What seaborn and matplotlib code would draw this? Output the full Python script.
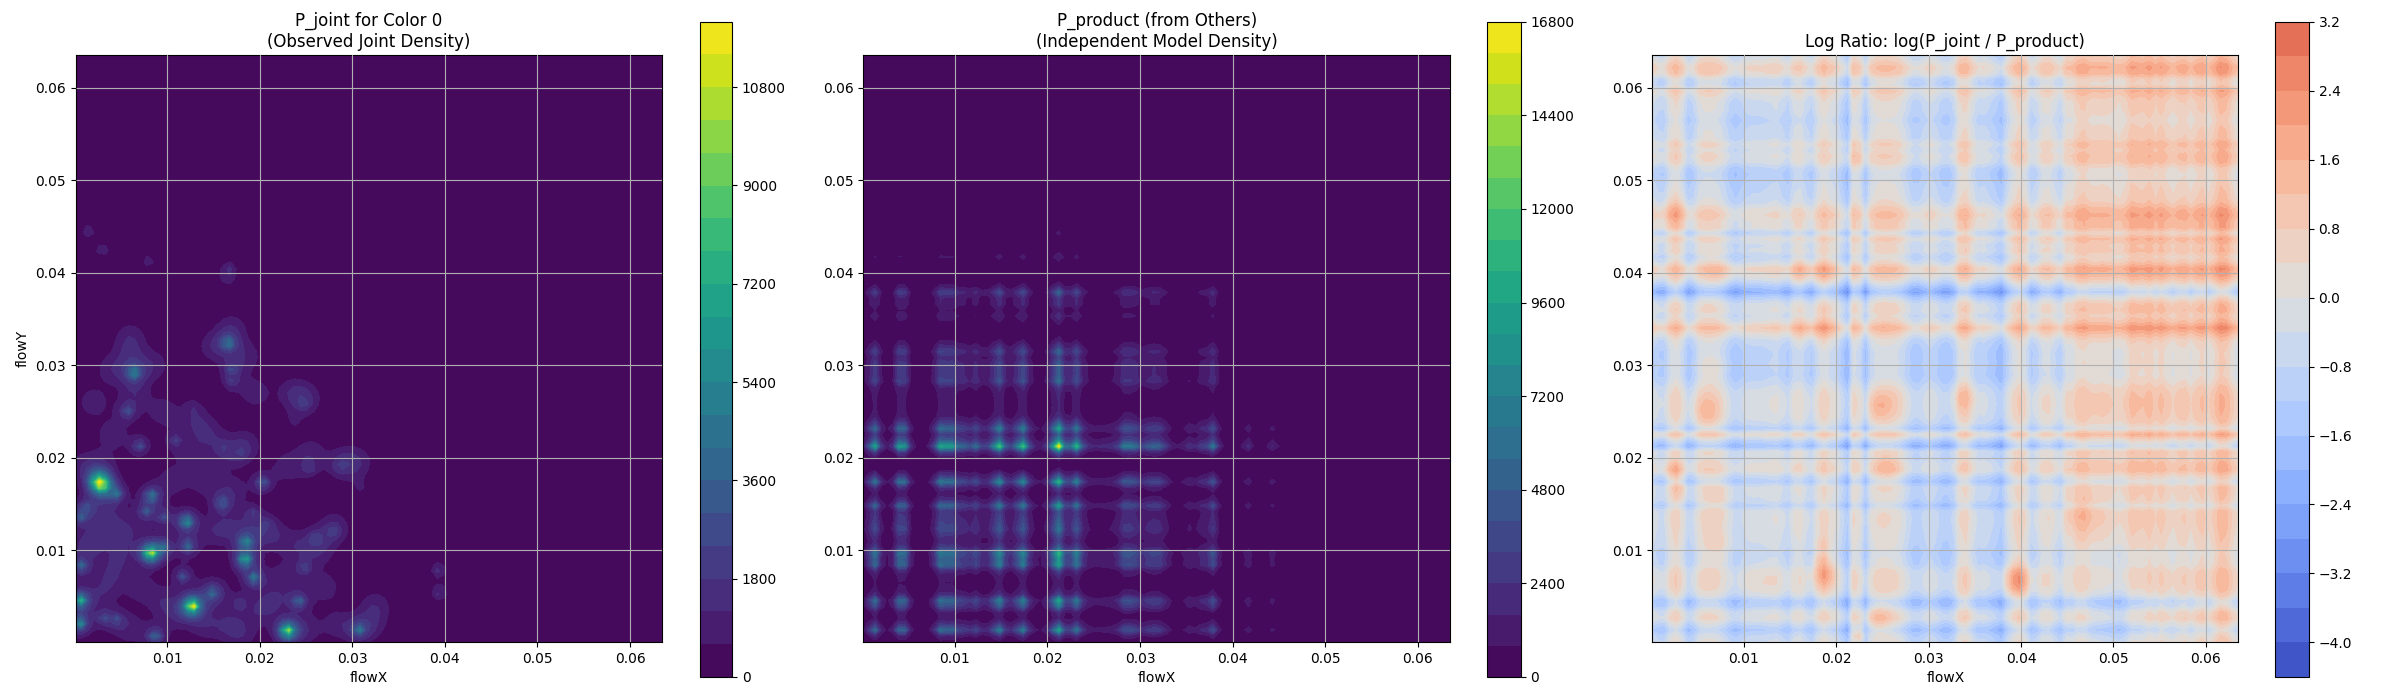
import numpy as np
import seaborn as sns
import matplotlib
matplotlib.use("Agg")
import matplotlib.pyplot as plt

# joint density: peaks (flowX, flowY, height)
peak_x = [.0026, .0030, .0127, .0082, .0230, .0006, .0005, .0184, .0185, .0194, .0121, .0122, .0083, .0064, .0166,
          .0057, .0070, .0108, .0159, .0203, .0045, .0006, .0012, .0007, .0117, .0149, .0242, .0248, .0260, .0280,
          .0307, .0087, .0045, .0031, .0096, .0077, .0096, .0192, .0208, .0170, .0170, .0393, .0394, .0254, .0286,
          .0248, .0237, .0309, .0127, .0181, .0160, .0178, .0015, .0030, .0080, .0167, .0165]
peak_y = [.0174, .0170, .0040, .0097, .0013, .0046, .0021, .0090, .0109, .0070, .0131, .0105, .0159, .0292, .0324,
          .0250, .0213, .0219, .0151, .0173, .0161, .0136, .0147, .0083, .0072, .0054, .0045, .0081, .0113, .0120,
          .0014, .0007, .0025, .0027, .0104, .0142, .0136, .0140, .0129, .0296, .0282, .0079, .0054, .0188, .0190,
          .0257, .0241, .0169, .0255, .0204, .0210, .0043, .0445, .0425, .0413, .0405, .0395]
peak_h = [10000, 6500, 11800, 10800, 10000, 7400, 6000, 6800, 4600, 4600, 6000, 4000, 4500, 4800, 4000,
          2800, 2800, 1900, 3200, 3200, 3800, 3000, 1900, 3800, 2900, 2900, 3800, 2200, 1900, 1300,
          4000, 3900, 2200, 2300, 3300, 2900, 2600, 1700, 1200, 2400, 1700, 1500, 1500, 1300, 1000,
          1000, 900, 800, 900, 1100, 800, 1600, 1100, 1100, 1000, 1100, 1100]

# lumpy low floor under the peaks
lump_x = [.0020, .0040, .0085, .0040, .0065, .0095, .0130, .0145, .0165, .0185, .0125, .0105, .0140, .0170, .0150,
          .0170, .0195, .0215, .0060, .0040, .0025, .0010, .0050, .0040, .0070, .0030, .0095, .0110, .0140, .0165,
          .0060, .0180, .0200, .0215, .0225, .0240, .0265, .0270, .0250, .0285, .0325, .0320, .0280, .0230, .0255,
          .0290, .0305, .0250, .0235, .0170, .0150, .0185, .0195, .0060, .0060, .0030, .0010, .0025, .0150]
lump_y = [.0260, .0295, .0300, .0225, .0270, .0250, .0240, .0225, .0205, .0215, .0205, .0175, .0175, .0165, .0120,
          .0125, .0120, .0115, .0120, .0130, .0110, .0105, .0095, .0075, .0060, .0055, .0045, .0030, .0020, .0020,
          .0015, .0010, .0035, .0045, .0070, .0105, .0100, .0060, .0015, .0020, .0040, .0020, .0125, .0190, .0205,
          .0195, .0195, .0265, .0270, .0340, .0320, .0310, .0270, .0330, .0310, .0190, .0190, .0145, .0055]
lump_h = 1000

# independent model: marginal peaks along each axis
marg_x = [.00127, .00425, .0084, .00945, .0107, .0122, .0147, .01724, .0211, .0231, .02845, .0293, .0312, .0323,
          .0352, .0365, .0378, .0416, .0442, .0454]
marg_x_h = [.60, .74, .48, .52, .24, .24, .66, .68, 1.0, .60, .28, .24, .24, .20, .11, .13, .40, .13, .10, .04]
marg_x_wide = [.0125, .0175, .0255, .0300]
marg_x_wide_h = [.11, .05, .08, .10]

marg_y = [.00147, .00436, .0086, .0097, .0121, .0132, .01487, .01747, .02133, .02326, .02847, .0299, .0316, .0352,
          .0367, .0379, .0417, .0443]
marg_y_h = [.58, .64, .50, .50, .26, .24, .52, .66, 1.0, .54, .28, .22, .26, .13, .13, .30, .09, .06]
marg_y_wide = [.0065, .0115, .0255, .0300]
marg_y_wide_h = [.08, .12, .10, .11]
product_top = 16400

# log ratio: stripes along x, stripes along y, then local patches
ratio_x = [.00115, .00415, .0090, .0118, .01464, .0173, .0211, .0230, .02847, .0319, .0355, .0366, .03775, .0413, .0441,
           .0026, .0062, .0121, .0161, .01845, .0222, .0249, .0270, .0303, .0337, .0399, .0421, .0433, .0447, .0465,
           .0487, .0522, .0537, .0552, .0575, .0594, .0618]
ratio_x_h = [-.65, -1.0, -.8, -.5, -.7, -.75, -1.4, -1.3, -.9, -.85, -.5, -.5, -1.3, -.85, -.85,
             .7, .45, .3, .3, .75, .95, .5, .35, .25, 1.1, .75, .4, .4, .4, .75,
             .5, .9, .9, .8, .7, 1.0, 1.4]
ratio_x_w = [.0005, .0005, .0008, .0012, .0004, .0006, .0004, .0004, .0009, .0011, .0004, .0004, .0005, .0005, .0004,
             .0006, .0014, .0015, .0006, .0006, .0004, .0011, .0011, .0005, .0005, .0006, .0003, .0003, .0003, .0006,
             .0013, .0006, .0004, .0006, .0006, .0004, .0008]
ratio_x_base = [.054]
ratio_x_base_h = [.45]
ratio_offset = -.25

ratio_y = [.03797, .02133, .02326, .01747, .01487, .00436, .00147, .0606, .0565, .0417, .0444, .0313, .0289, .0511,
           .0086, .0097, .0340, .0403, .0620, .0596, .0538, .0523, .0463, .0450, .0437, .0422, .0362, .0226, .0189,
           .0206, .0169, .0260, .0135, .0068, .0027]
ratio_y_h = [-1.6, -1.3, -1.0, -.9, -.75, -1.1, -.95, -.6, -.35, -.55, -.55, -.5, -.6, -.5,
             -.35, -.35, 1.3, 1.2, 1.1, .8, .6, .9, 1.1, .7, .7, .6, .5, .8, .7,
             .5, .35, .35, .3, .45, .45]
ratio_y_w = [.0005, .0004, .0003, .0004, .0003, .0005, .0005, .0005, .0005, .0005, .0003, .0009, .0009, .0012,
             .0004, .0004, .0005, .0006, .0007, .0004, .0003, .0006, .0007, .0003, .0004, .0004, .0004, .0003, .0005,
             .0003, .0004, .0016, .0014, .0013, .0006]

patch_x = [.0395, .0187, .0183, .0185, .0060, .0065, .0245, .0260, .0025, .0030, .0255, .0225, .0245, .0338, .0025,
           .0075, .0465, .0075, .0162, .0187, .0165, .0187, .0223, .0500, .0500, .0550, .0110, .0300, .0120, .0075]
patch_y = [.0068, .0075, .0090, .0105, .0250, .0295, .0255, .0260, .0185, .0165, .0188, .0010, .0025, .0265, .0465,
           .0105, .0140, .0155, .0403, .0402, .0340, .0340, .0523, .0045, .0015, .0060, .0480, .0140, .0065, .0402]
patch_h = [1.6, 1.4, .8, .8, 1.1, .7, .9, .4, 1.0, .8, .8, 1.2, .9, .8, .8,
           .7, .7, .7, .8, .7, .6, .6, .6, -.5, -.6, -.4, -.3, -.3, .4, .5]
patch_w = [.0010, .0009, .0005, .0005, .0011, .0010, .0009, .0012, .0006, .0006, .0010, .0005, .0009, .0008, .0010,
           .0012, .0014, .0012, .0009, .0009, .0010, .0010, .0009, .0030, .0030, .0070, .0060, .0040, .0015, .0010]

joint_levels = np.arange(0, 12001, 600)
product_levels = np.arange(0, 16801, 800)
ratio_levels = np.arange(-4.4, 3.21, 0.4)
lims = (.0001, .0635)
ticks = [.01, .02, .03, .04, .05, .06]


def bumps(grid, pos, height, width):
    total = np.zeros_like(grid)
    for p, h in zip(pos, height):
        total += h * np.exp(-0.5 * ((grid - p) / width) ** 2)
    return total


def blob(gx, gy, x, y, w):
    return np.exp(-0.5 * (((gx - x) / w) ** 2 + ((gy - y) / w) ** 2))


grid = np.linspace(lims[0], lims[1], 100)
gx, gy = np.meshgrid(grid, grid)

# P_joint
p_joint = np.zeros_like(gx)
for x, y, h in zip(peak_x, peak_y, peak_h):
    p_joint += h * (.6 * blob(gx, gy, x, y, .00035) + .45 * blob(gx, gy, x, y, .0009))
for x, y in zip(lump_x, lump_y):
    p_joint += lump_h * blob(gx, gy, x, y, .0012)

# P_product
fx = (.6 * bumps(grid, marg_x, marg_x_h, .0003) + .5 * bumps(grid, marg_x, marg_x_h, .0007)
      + bumps(grid, marg_x_wide, marg_x_wide_h, .003))
fy = (.6 * bumps(grid, marg_y, marg_y_h, .0003) + .5 * bumps(grid, marg_y, marg_y_h, .0007)
      + bumps(grid, marg_y_wide, marg_y_wide_h, .002))
p_product = np.outer(fy, fx)
p_product = p_product / p_product.max() * product_top

# log ratio
rx = np.zeros_like(grid)
for p, h, w in zip(ratio_x, ratio_x_h, ratio_x_w):
    rx += h * np.exp(-0.5 * ((grid - p) / w) ** 2)
rx += bumps(grid, ratio_x_base, ratio_x_base_h, .008)
ry = np.zeros_like(grid)
for p, h, w in zip(ratio_y, ratio_y_h, ratio_y_w):
    ry += h * np.exp(-0.5 * ((grid - p) / w) ** 2)
log_ratio = rx[np.newaxis, :] + ry[:, np.newaxis] + ratio_offset
for x, y, h, w in zip(patch_x, patch_y, patch_h, patch_w):
    log_ratio += h * np.exp(-0.5 * (((gx - x) / w) ** 2 + ((gy - y) / (w * 1.2)) ** 2))

sns.set_style("ticks", {
    "axes.edgecolor": "black", "text.color": "black", "axes.labelcolor": "black",
    "xtick.color": "black", "ytick.color": "black", "xtick.bottom": True, "ytick.left": True,
    "axes.grid": True, "grid.color": "#b0b0b0", "grid.linestyle": "-",
})
plt.rcParams["font.family"] = "DejaVu Sans"
plt.rcParams["grid.linewidth"] = 0.8

viridis = sns.color_palette("viridis", as_cmap=True)
coolwarm = sns.color_palette("coolwarm", as_cmap=True)

fig = plt.figure(figsize=(24, 7), dpi=100)
boxes = [(.0315, .083, .2445, .838), (.3597, .083, .2445, .838), (.6885, .083, .2441, .838)]
bar_boxes = [(.2915, .033, .0135, .936), (.6196, .033, .0140, .936), (.9480, .033, .0140, .936)]

panels = [
    (p_joint, joint_levels, viridis, {}, "P_joint for Color 0\n(Observed Joint Density)"),
    (p_product, product_levels, viridis, {}, "P_product (from Others)\n(Independent Model Density)"),
    (log_ratio, ratio_levels, coolwarm, {"vmin": -4.4, "vmax": 4.4}, "Log Ratio: log(P_joint / P_product)"),
]

for i, (z, levels, cmap, norm, title) in enumerate(panels):
    ax = fig.add_axes(boxes[i])
    cf = ax.contourf(gx, gy, np.clip(z, levels[0], levels[-1]), levels=levels, cmap=cmap, **norm)
    ax.set_axisbelow(False)
    ax.grid(True)
    ax.set_xlim(lims)
    ax.set_ylim(lims)
    ax.set_xticks(ticks)
    ax.set_yticks(ticks)
    ax.set_xlabel("flowX")
    if i == 0:
        ax.set_ylabel("flowY")
    ax.set_title(title, fontsize=12)
    sns.despine(ax=ax, top=False, right=False)
    cax = fig.add_axes(bar_boxes[i])
    fig.colorbar(cf, cax=cax)

fig.savefig("out.png", dpi=100)
